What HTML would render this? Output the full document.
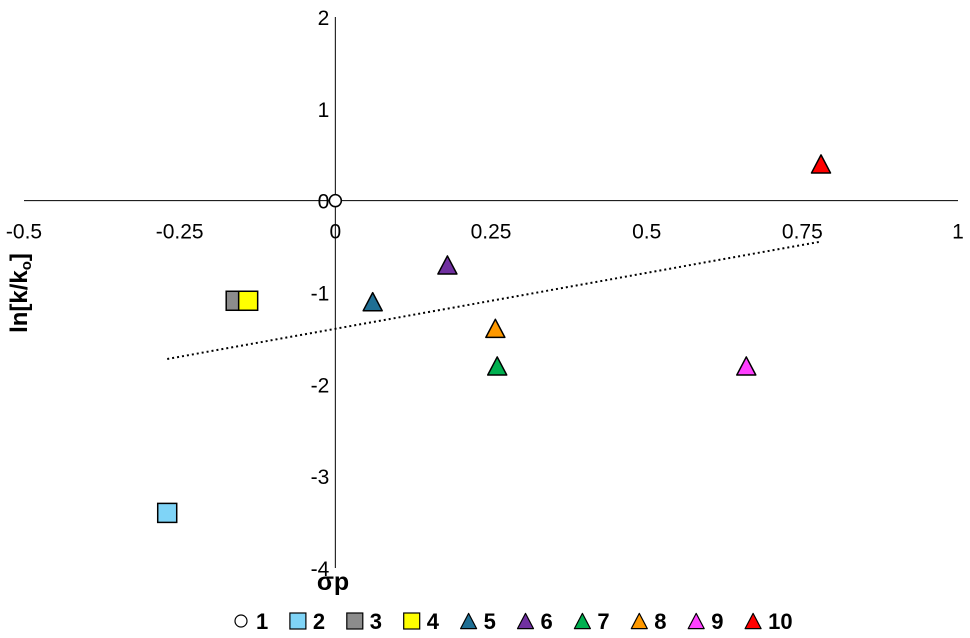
<!DOCTYPE html>
<html><head><meta charset="utf-8"><style>
html,body{margin:0;padding:0;background:#fff;}
svg{display:block;font-family:"Liberation Sans",sans-serif;}
</style></head><body>
<svg id="chart" width="970" height="638" viewBox="0 0 970 638">
<g id="axes"></g>
<g id="marks"></g>
<g id="legend"></g>
<text x="0" y="0" transform="translate(27,293) rotate(-90)" text-anchor="middle" font-size="24" font-weight="bold">ln[k/k<tspan font-size="15" dy="4">o</tspan><tspan dy="-4">]</tspan></text>
<text x="333" y="590" text-anchor="middle" font-size="25" font-weight="bold">σp</text>
</svg>
<script>
const labels = ["1","2","3","4","5","6","7","8","9","10"];
const xValues = [0, -0.27, -0.16, -0.14, 0.06, 0.18, 0.26, 0.257, 0.66, 0.78];
const yValues = [0, -3.4, -1.09, -1.09, -1.1, -0.7, -1.8, -1.39, -1.8, 0.4];
const shapes = ["circle","square","square","square","triangle","triangle","triangle","triangle","triangle","triangle"];
const colors = ["#ffffff","#7fd4f7","#8c8c8c","#ffff00","#1f6f94","#7030a0","#00b050","#ff9900","#ff40ff","#ff0000"];
const xTicks = [-0.5,-0.25,0,0.25,0.5,0.75,1];
const xTickLabels = ["-0.5","-0.25","0","0.25","0.5","0.75","1"];
const yTicks = [2,1,0,-1,-2,-3,-4];
const yTickLabels = ["2","1","0","-1","-2","-3","-4"];

const NS="http://www.w3.org/2000/svg";
const X0=24,X1=958,Y0=17,Y1=568;
const sx=v=>X0+(v+0.5)/1.5*(X1-X0);
const sy=v=>Y0+(2-v)/6*(Y1-Y0);
function mk(tag,attrs,parent){const e=document.createElementNS(NS,tag);for(const k in attrs)e.setAttribute(k,attrs[k]);parent.appendChild(e);return e;}
const axes=document.getElementById('axes'),marks=document.getElementById('marks'),legend=document.getElementById('legend');

let e=mk('line',{x1:X0,x2:X1,y1:sy(0),y2:sy(0),stroke:'#000','stroke-width':1},axes);


e=mk('line',{x1:sx(0),x2:sx(0),y1:Y0,y2:Y1,stroke:'#000','stroke-width':1},axes);


xTicks.forEach((t,i)=>{
  const tx=mk('text',{x:sx(t),y:sy(0)+38,'text-anchor':'middle','font-size':21},axes);
  tx.textContent=xTickLabels[i];
  
  
});
yTicks.forEach((t,i)=>{
  const tx=mk('text',{x:sx(0)-6,y:sy(t)+8,'text-anchor':'end','font-size':21},axes);
  tx.textContent=yTickLabels[i];
  
  
});

const n=xValues.length;
const mx=xValues.reduce((a,b)=>a+b,0)/n, my=yValues.reduce((a,b)=>a+b,0)/n;
let sxy=0,sxx=0;for(let i=0;i<n;i++){sxy+=(xValues[i]-mx)*(yValues[i]-my);sxx+=(xValues[i]-mx)**2;}
const slope=sxy/sxx, icpt=my-slope*mx;
const xmin=Math.min(...xValues), xmax=Math.max(...xValues);
e=mk('line',{x1:sx(xmin),y1:sy(icpt+slope*xmin),x2:sx(xmax),y2:sy(icpt+slope*xmax),stroke:'#000','stroke-width':2,'stroke-dasharray':'2,3'},marks);



function marker(shape,cx,cy,s,fill,parent,sw){
  if(shape==='circle')return mk('circle',{cx:cx,cy:cy,r:s/2,fill:fill,stroke:'#000','stroke-width':sw},parent);
  if(shape==='square')return mk('rect',{x:cx-s/2,y:cy-s/2,width:s,height:s,fill:fill,stroke:'#000','stroke-width':sw},parent);
  const h=s*0.95;
  return mk('polygon',{points:`${cx},${cy-h/2} ${cx+s/2},${cy+h/2} ${cx-s/2},${cy+h/2}`,fill:fill,stroke:'#000','stroke-width':sw,'stroke-linejoin':'round'},parent);
}
for(let i=0;i<n;i++){
  const m=marker(shapes[i],sx(xValues[i]),sy(yValues[i]),shapes[i]==='circle'?12:19,colors[i],marks,1.5);
  
  
}
for(let i=0;i<n;i++){
  const lx=241+i*56.9, ly=621;
  const m=marker(shapes[i],lx,ly,shapes[i]==='circle'?12:16,colors[i],legend,1.2);
  
  
  const t=mk('text',{x:lx+15,y:ly+8,'font-size':22,'font-weight':'bold'},legend);
  t.textContent=labels[i];
  
  
}
</script>
</body></html>
